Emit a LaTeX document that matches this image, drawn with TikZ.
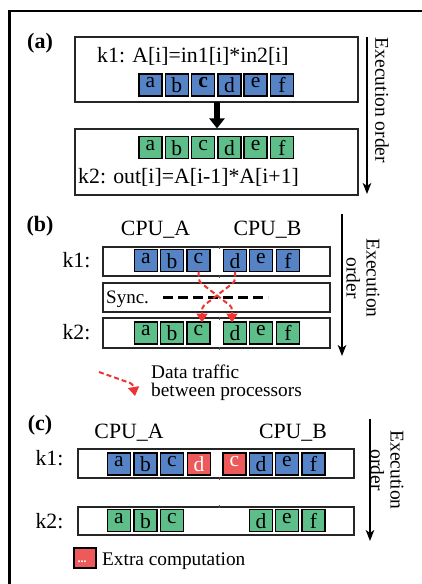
\documentclass[tikz,border=0pt]{standalone}
\usepackage{fontspec}
\setmainfont{Liberation Serif}
\usetikzlibrary{arrows.meta,calc}
\definecolor{cblue}{HTML}{5583C6}
\definecolor{cgreen}{HTML}{5DBE8A}
\definecolor{cred}{HTML}{EE5A5A}
\definecolor{rarrow}{HTML}{EE3333}
\newcommand\mkcell[5]{%
  \node[#4] (#1) at (#2,#3) {};
  \node[celltxt] (#1t) at ($(#1.north)+(0,3.4)$) {#5};}
\newcommand\mkcellw[5]{%
  \node[#4] (#1) at (#2,#3) {};
  \node[celltxt,text=white] (#1t) at ($(#1.north)+(0,3.4)$) {#5};}
\begin{document}
\begin{tikzpicture}[x=1pt,y=-1pt,
  bigbox/.style={draw=black!85, line width=1.1pt, inner sep=0pt, outer sep=0pt},
  cellbox/.style={draw=black, line width=1.6pt, minimum width=23pt, minimum height=22pt, inner sep=0pt, outer sep=0pt},
  bluecell/.style={cellbox, fill=cblue},
  greencell/.style={cellbox, fill=cgreen},
  redcell/.style={cellbox, fill=cred},
  celltxt/.style={anchor=north, inner sep=0pt, font=\fontsize{21.5}{22}\selectfont},
  maintxt/.style={inner sep=0pt, font=\fontsize{21.8}{24}\selectfont},
  lbltxt/.style={inner sep=0pt, font=\fontsize{22}{24}\selectfont\bfseries},
  exectxt/.style={inner sep=0pt, rotate=-90, align=center, font=\fontsize{19.5}{20}\selectfont},
  legtxt/.style={inner sep=0pt, font=\fontsize{19.3}{20}\selectfont},
  execarrow/.style={line width=1.6pt, -{Stealth[length=11pt,width=8.5pt,inset=3pt]}},
  redarrow/.style={draw=rarrow, line width=2pt, dash pattern=on 5pt off 3pt, rounded corners=3pt, -{Triangle[width=11pt,length=9pt]}},
  tick/.style={line width=0.8pt, black!70}
]
\useasboundingbox (0,0) rectangle (422,584);
% outer frame
\draw[line width=2.6pt] (9.3,590) -- (9.3,11) -- (430,11);

%================ (a)
\node[lbltxt] (la) at (40,43) {(a)};
\node[bigbox, minimum width=283pt, minimum height=65pt] (A1) at (216.5,69.5) {};
\node[bigbox, minimum width=283pt, minimum height=66pt] (A2) at (216.5,162) {};
\node[maintxt, anchor=west] (k1a) at (97,56) {k1: A[i]=in1[i]*in2[i]};
\node[maintxt, anchor=west] (k2a) at (78,177.5) {k2: out[i]=A[i-1]*A[i+1]};
\foreach \n/\l [count=\i from 0] in {a/a,b/b,c/\textbf{c},d/d,e/e,f/f} {
  \mkcell{a1\n}{150.5+26.3*\i}{85}{bluecell}{\l}
}
\foreach \n [count=\i from 0] in {a,b,c,d,e,f} {
  \mkcell{a2\n}{150.5+26.3*\i}{147.5}{greencell}{\n}
}
\coordinate (ax) at (217,0);
\draw[line width=6.5pt, -{Triangle[width=15pt,length=10pt]}] (A1.south -| ax) -- ([yshift=0.6pt]A2.north -| ax);
\coordinate (ea1) at (367,37);
\coordinate (ea2) at (367,194);
\draw[execarrow] (ea1) -- (ea2);
\node[exectxt] (eta) at (382,100.5) {Execution order};

%================ (b)
\node[lbltxt] (lb) at (40,226) {(b)};
\node[maintxt, anchor=base] (cpuab) at (155.5,235) {CPU\_A};
\node[maintxt, anchor=base] (cpubb) at (267.5,235) {CPU\_B};
\node[maintxt] (k1b) at (76.5,260) {k1:};
\node[maintxt] (k2b) at (76.5,332) {k2:};
\node[bigbox, minimum width=227pt, minimum height=29pt] (B1) at (216.5,261.5) {};
\node[bigbox, minimum width=227pt, minimum height=29pt] (BS) at (216.5,297.5) {};
\node[bigbox, minimum width=227pt, minimum height=30pt] (B2) at (216.5,333) {};
\draw[tick] (219,245.5) -- (219,248.5);
\draw[tick] (219,275) -- (219,278);
\draw[tick] (219,316.5) -- (219,319.5);
\draw[tick] (219,347) -- (219,350);
\node[maintxt, anchor=base west, font=\fontsize{19}{20}\selectfont] (sync) at (106,303) {Sync.};
\coordinate (sy1) at (163,297);
\coordinate (sy2) at (268,297);
\draw[line width=3pt, dash pattern=on 10pt off 5pt] (sy1) -- (sy2);
\foreach \n/\x in {a/146,b/172,c/198.5,d/235,e/261,f/288} {
  \mkcell{b1\n}{\x}{260.5}{bluecell}{\n}
  \mkcell{b2\n}{\x}{333}{greencell}{\n}
}
\draw[redarrow] (b1c.south) -- ++(0.5,10) -- ($(b2d.north)+(-3,-15)$) -- ($(b2d.north)+(-3,0.5)$);
\draw[redarrow] (b1d.south) -- ++(0,10) -- ($(b2c.north)+(3.5,-15)$) -- ($(b2c.north)+(3.5,0.5)$);
\coordinate (eb1) at (342,214);
\coordinate (eb2) at (342,356);
\draw[execarrow] (eb1) -- (eb2);
\node[exectxt] (etb) at (363,278) {Execution\\order};
% legend b
\coordinate (lgs) at (99,372);
\coordinate (lgm) at (133,384);
\coordinate (lge) at (135,396);
\draw[redarrow] (lgs) -- (lgm) -- (lge);
\node[legtxt, anchor=base west] (dt1) at (151,378) {Data traffic};
\node[legtxt, anchor=base west] (dt2) at (151,396) {between processors};

%================ (c)
\node[lbltxt] (lc) at (40,425) {(c)};
\node[maintxt, anchor=base] (cpuac) at (129,438) {CPU\_A};
\node[maintxt, anchor=base] (cpubc) at (293,438) {CPU\_B};
\node[maintxt] (k1c) at (49.5,458) {k1:};
\node[maintxt] (k2c) at (49.5,521) {k2:};
\node[bigbox, minimum width=276pt, minimum height=29pt] (C1) at (216,463.5) {};
\node[bigbox, minimum width=276pt, minimum height=28pt] (C2) at (216,521) {};
\draw[tick] (219,477) -- (219,480);
\draw[tick] (219,505) -- (219,508);
\mkcell{c1a}{119}{464}{bluecell}{a}
\mkcell{c1b}{145.5}{464}{bluecell}{b}
\mkcell{c1c}{172}{464}{bluecell}{c}
\mkcellw{c1x}{199}{464}{redcell}{d}
\mkcellw{c1y}{234.5}{464}{redcell}{c}
\mkcell{c1d}{261}{464}{bluecell}{d}
\mkcell{c1e}{287}{464}{bluecell}{e}
\mkcell{c1f}{313.5}{464}{bluecell}{f}
\foreach \n/\x in {a/119,b/145.5,c/172,d/261,e/287,f/313.5} {
  \mkcell{c2\n}{\x}{520.5}{greencell}{\n}
}
\coordinate (ec1) at (370,419);
\coordinate (ec2) at (370,541);
\draw[execarrow] (ec1) -- (ec2);
\node[exectxt] (etc) at (387,470) {Execution\\order};
% legend c
\node[redcell, minimum width=22.5pt, minimum height=20.5pt] (lgr) at (85,558) {};
\node[inner sep=0pt, text=white, font=\fontsize{12}{12}\selectfont\bfseries] (lgrd) at (82,562) {...};
\node[legtxt, anchor=base west] (ec) at (102,565) {Extra computation};
\end{tikzpicture}
\end{document}
